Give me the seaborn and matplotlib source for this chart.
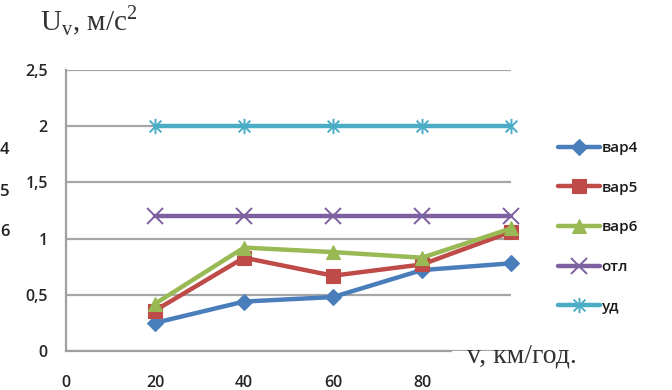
import numpy as np
import pandas as pd
import matplotlib
matplotlib.use("Agg")
import matplotlib.pyplot as plt
from matplotlib.path import Path
import seaborn as sns

# Speed (km/h) and acceleration values per variant
speed = [20, 40, 60, 80, 100]
var4 = [0.25, 0.44, 0.48, 0.72, 0.78]
var5 = [0.36, 0.83, 0.67, 0.77, 1.06]
var6 = [0.42, 0.92, 0.88, 0.83, 1.09]
otl = [1.2, 1.2, 1.2, 1.2, 1.2]
ud = [2.0, 2.0, 2.0, 2.0, 2.0]

series_names = ["вар4", "вар5", "вар6", "отл", "уд"]
series_values = [var4, var5, var6, otl, ud]

x_ticks = [0, 20, 40, 60, 80]
y_ticks = [0, 0.5, 1, 1.5, 2, 2.5]
y_tick_labels = ["0", "0,5", "1", "1,5", "2", "2,5"]

colors = ["#4a7ebb", "#be4b48", "#98b954", "#7d60a0", "#4bacc6"]

# star marker: an x crossed by a vertical bar
star = Path([(-1, -1), (1, 1), (-1, 1), (1, -1), (0, -1.3), (0, 1.3)],
            [Path.MOVETO, Path.LINETO, Path.MOVETO, Path.LINETO,
             Path.MOVETO, Path.LINETO])
markers = ["D", "s", "^", "x", star]
msizes = [8, 10, 10, 11, 11]

df = pd.DataFrame({
    "v": np.tile(speed, len(series_names)),
    "U": np.concatenate(series_values),
    "series": np.repeat(series_names, len(speed)),
})

sns.set_theme(style="white")
plt.rcParams["font.family"] = ["Open Sans", "DejaVu Sans"]
plt.rcParams["mathtext.fontset"] = "custom"
plt.rcParams["mathtext.rm"] = "Liberation Serif"

fig = plt.figure(figsize=(6.72, 3.9), dpi=100)
ax = fig.add_axes([66 / 672, 1 - 351 / 390, (511 - 66) / 672, (351 - 70) / 390])

for name, c, m, ms in zip(series_names, colors, markers, msizes):
    sub = df[df["series"] == name]
    sns.lineplot(data=sub, x="v", y="U", ax=ax, color=c, linewidth=3.2,
                 marker=m, markersize=ms, markeredgecolor=c, markerfacecolor=c,
                 markeredgewidth=1.4 if m in ("x",) or m is star else 0.8,
                 label=name, clip_on=False, zorder=3)

ax.set_xlim(0, 100)
ax.set_ylim(0, 2.5)
ax.set_xticks(x_ticks)
ax.set_yticks(y_ticks)
ax.set_yticklabels(y_tick_labels)
ax.set_xlabel("")
ax.set_ylabel("")

ax.grid(axis="y", color="#a6a6a6", linewidth=1.6)
ax.set_axisbelow(True)
for s in ["top", "right"]:
    ax.spines[s].set_visible(False)
for s in ["left", "bottom"]:
    ax.spines[s].set_color("#a0a0a0")
    ax.spines[s].set_linewidth(1.6)
ax.spines["bottom"].set_bounds(0, 86.5)
ax.tick_params(axis="both", direction="out", length=6, width=1.4,
               color="#a0a0a0", labelsize=11.5, labelcolor="#262626", pad=6)
ax.tick_params(axis="y", length=8, pad=5)
ax.tick_params(axis="x", pad=11)
for lbl in ax.get_xticklabels() + ax.get_yticklabels():
    lbl.set_fontweight("semibold")

leg = ax.legend(loc="upper left", bbox_to_anchor=(558 / 672, 1 - 141 / 390),
                bbox_transform=fig.transFigure, frameon=False, fontsize=11,
                handlelength=2.75, handletextpad=0.1, labelspacing=1.68,
                borderaxespad=0, borderpad=0)
for t in leg.get_texts():
    t.set_color("#1a1a1a")
    t.set_fontweight("semibold")

# axis captions
fig.text(40 / 672, 1 - 31 / 390, r"U$_\mathrm{v}$, м/с$^{\mathrm{2}}$",
         fontsize=21, family="Liberation Serif", color="#333333",
         ha="left", va="baseline")
fig.text(467 / 672, 1 - 363 / 390, "v, км/год.", fontsize=20,
         family="Liberation Serif", color="#333333", ha="left", va="baseline")

# characters at the left edge
for ch, yy in zip(["4", "5", "6"], [150, 192, 232]):
    fig.text(0, 1 - yy / 390, ch, fontsize=12, color="#202020",
             ha="left", va="center", fontweight="semibold")

fig.savefig("out.png", dpi=100)
